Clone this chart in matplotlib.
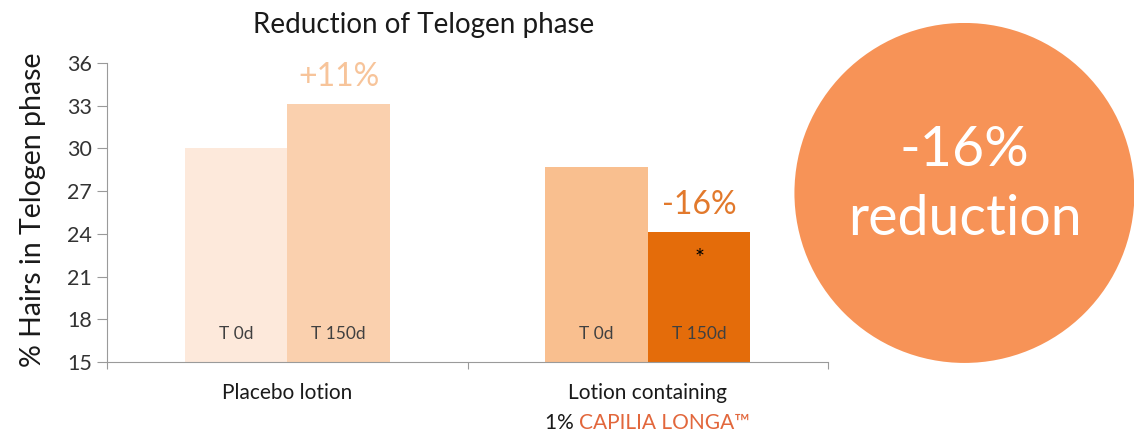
import matplotlib.pyplot as plt
from matplotlib.patches import Circle
from matplotlib.offsetbox import TextArea, HPacker, AnnotationBbox
import numpy as np

plt.rcParams["font.family"] = ["Lato", "DejaVu Sans"]

# data
groups = ["Placebo lotion", "Lotion containing"]
timepoints = ["T 0d", "T 150d"]
t0_values = [30.0, 28.7]
t150_values = [33.1, 24.1]
change_labels = ["+11%", "-16%"]
yticks = [15, 18, 21, 24, 27, 30, 33, 36]

t0_colors = ["#fde9db", "#f9bf8f"]
t150_colors = ["#fad0ae", "#e46c0a"]
change_colors = ["#f7c49a", "#e2792c"]
txt = "#333333"

fig = plt.figure(figsize=(11.4, 4.41), dpi=100)
ax = fig.add_axes([0.0939, 0.1791, 0.6324, 0.6779])

x = np.arange(len(groups))
w = 0.285
ax.bar(x - w / 2, t0_values, w, color=t0_colors, linewidth=0)
ax.bar(x + w / 2, t150_values, w, color=t150_colors, linewidth=0)

ax.set_ylim(15, 36)
ax.set_xlim(-0.5, 1.5)
ax.set_yticks(yticks)
ax.set_yticklabels([str(v) for v in yticks], fontsize=15.5, color=txt)
ax.set_xticks([-0.5, 0.5, 1.5])
ax.set_xticklabels([])
ax.tick_params(axis="y", length=7, color="#9a9a9a", pad=4)
ax.tick_params(axis="x", length=5, color="#9a9a9a")
for s in ["top", "right"]:
    ax.spines[s].set_visible(False)
for s in ["left", "bottom"]:
    ax.spines[s].set_color("#9a9a9a")
ax.set_ylabel("% Hairs in Telogen phase", fontsize=20.5, color="#1a1a1a")
ax.yaxis.set_label_coords(-0.085, 0.51)

# labels inside bars
for i in range(len(groups)):
    ax.text(x[i] - w / 2, 17.0, timepoints[0], ha="center", va="center", fontsize=12.5, color="#404040")
    ax.text(x[i] + w / 2, 17.0, timepoints[1], ha="center", va="center", fontsize=12.5, color="#404040")
    ax.annotate(change_labels[i], (x[i] + w / 2, t150_values[i]), xytext=(0, 9),
                textcoords="offset points", ha="center", va="bottom",
                fontsize=23, color=change_colors[i])
ax.text(x[1] + w / 2, 22.3, "*", ha="center", va="center", fontsize=17, color="black")

# category labels under axis
ax.annotate(groups[0], (x[0], 15), xytext=(0, -22), textcoords="offset points",
            ha="center", va="center", fontsize=15, color="#1a1a1a", annotation_clip=False)
ax.annotate(groups[1], (x[1], 15), xytext=(0, -22), textcoords="offset points",
            ha="center", va="center", fontsize=15, color="#1a1a1a", annotation_clip=False)
line2 = HPacker(children=[TextArea("1% ", textprops=dict(fontsize=15, color="#1a1a1a")),
                          TextArea("CAPILIA LONGA™", textprops=dict(fontsize=15, color="#e2673c"))],
                align="baseline", pad=0, sep=0)
ab = AnnotationBbox(line2, (x[1], 15), xybox=(0, -44), boxcoords="offset points",
                    frameon=False, box_alignment=(0.5, 0.5), annotation_clip=False)
ax.add_artist(ab)

fig.text(0.3715, 0.925, "Reduction of Telogen phase", ha="center", va="baseline",
         fontsize=20, color="#1a1a1a")

# big circle on the right
cax = fig.add_axes([0.6965, 0.177, 0.299, 0.771])
cax.set_xlim(-1, 1)
cax.set_ylim(-1, 1)
cax.set_aspect("equal")
cax.axis("off")
cax.add_patch(Circle((0, 0), 1, color="#f79357", linewidth=0))
cax.text(0, 0.16, "-16%", ha="center", va="baseline", fontsize=40, color="white")
cax.text(0, -0.25, "reduction", ha="center", va="baseline", fontsize=40, color="white")

fig.savefig("out.png", dpi=100)
